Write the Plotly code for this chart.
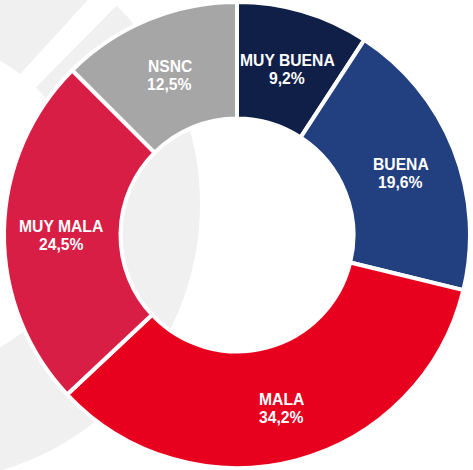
import math
import plotly.graph_objects as go

labels = ["MUY BUENA", "BUENA", "MALA", "MUY MALA", "NSNC"]
values = [9.2, 19.6, 34.2, 24.5, 12.5]
colors = ["#101f48", "#22407f", "#e8001f", "#d81e44", "#a6a6a6"]

W, H = 473, 470


def px(x):
    return x / W


def py(y):
    return 1 - y / H


# donut geometry in pixels
CX, CY, R = 237, 235, 233

fig = go.Figure(
    go.Pie(
        labels=labels,
        values=values,
        sort=False,
        direction="clockwise",
        rotation=0,
        hole=0.5,
        marker=dict(colors=colors, line=dict(color="white", width=4)),
        textinfo="none",
        domain=dict(x=[px(CX - R), px(CX + R)], y=[py(CY + R), py(CY - R)]),
        showlegend=False,
        hoverinfo="label+percent",
    )
)

# slice labels, placed at each slice's mid-angle
font = dict(family="Arial, 'Liberation Sans', sans-serif", size=15.7, color="white")
annotations = []
total = sum(values)
cum = 0.0
r_text = 176
for lab, val in zip(labels, values):
    ang = 2 * math.pi * (cum + val / 2) / total
    cum += val
    tx = CX + r_text * math.sin(ang)
    ty = CY - r_text * math.cos(ang) + 3
    pct = f"{val:.1f}".replace(".", ",") + "%"
    for txt, dy in ((lab, -9), (pct, 9)):
        annotations.append(dict(
            x=px(tx), y=py(ty + dy), xref="paper", yref="paper",
            text=f"<b>{txt}</b>", showarrow=False, font=font,
            xanchor="center", yanchor="middle",
        ))

# background watermark (light grey ring with a diagonal cut)
gcx, gcy, r_out, r_in = -78, 204, 278, 163
grey = "#f0f0f0"
shapes = [
    dict(type="circle", xref="paper", yref="paper", layer="below",
         x0=px(gcx - r_out), x1=px(gcx + r_out), y0=py(gcy + r_out), y1=py(gcy - r_out),
         fillcolor=grey, line=dict(width=0)),
    dict(type="circle", xref="paper", yref="paper", layer="below",
         x0=px(gcx - r_in), x1=px(gcx + r_in), y0=py(gcy + r_in), y1=py(gcy - r_in),
         fillcolor="white", line=dict(width=0)),
]
stripe = [(97, -10), (-20, 118), (-20, 144), (132, -10)]
path = "M " + " L ".join(f"{px(x):.5f},{py(y):.5f}" for x, y in stripe) + " Z"
shapes.append(dict(type="path", xref="paper", yref="paper", layer="below", path=path,
                   fillcolor="white", line=dict(width=0)))

fig.update_layout(
    width=W,
    height=H,
    margin=dict(l=0, r=0, t=0, b=0),
    paper_bgcolor="white",
    plot_bgcolor="white",
    separators=",.",
    shapes=shapes,
    annotations=annotations,
)

fig.write_html(
    "out.html",
    config={"displayModeBar": False},
    post_script="document.body.style.margin='0';",
)
